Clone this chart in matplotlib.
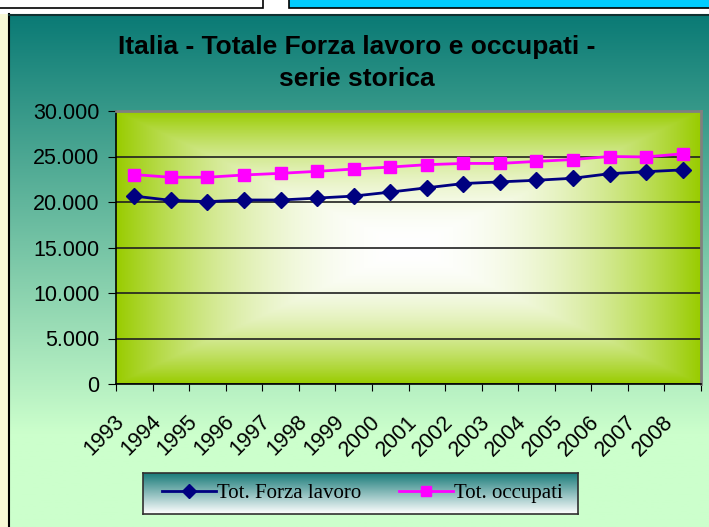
import numpy as np
import matplotlib
matplotlib.use("Agg")
import matplotlib.pyplot as plt
import matplotlib.transforms as mtransforms
from matplotlib.lines import Line2D
from matplotlib.patches import Rectangle

# dati (migliaia)
anni = ['1993', '1994', '1995', '1996', '1997', '1998', '1999', '2000',
        '2001', '2002', '2003', '2004', '2005', '2006', '2007', '2008']
forza_lavoro = [20650, 20180, 20040, 20220, 20220, 20430, 20650, 21090,
                21560, 22030, 22210, 22390, 22610, 23110, 23330, 23530]
occupati = [23010, 22720, 22720, 22970, 23150, 23370, 23620, 23840,
            24100, 24240, 24240, 24460, 24670, 25000, 24950, 25300]
yticks = [0, 5000, 10000, 15000, 20000, 25000, 30000]
ylabels = ['0', '5.000', '10.000', '15.000', '20.000', '25.000', '30.000']
titolo = 'Italia - Totale Forza lavoro e occupati -\nserie storica'
nomi = ['Tot. Forza lavoro', 'Tot. occupati']

W, H = 709, 527
fig = plt.figure(figsize=(W / 100, H / 100), dpi=100)
fig.patch.set_facecolor('white')

# sfondo (coordinate in pixel)
bg = fig.add_axes([0, 0, 1, 1])
bg.set_xlim(0, W)
bg.set_ylim(H, 0)
bg.axis('off')

# striscia gialla a sinistra
bg.add_patch(Rectangle((0, 14), 9, H - 14, facecolor='#f8f9d6', edgecolor='none'))
# riquadri in alto
bg.add_patch(Rectangle((-2, -2), 265, 9.5, facecolor='white', edgecolor='black', lw=1.2))
bg.add_patch(Rectangle((289, -2), 430, 9.5, facecolor='#00ccff', edgecolor='black', lw=1.2))

# gradiente verticale del grafico
top = np.array([10, 122, 117]) / 255
bot = np.array([204, 255, 204]) / 255
yy = np.linspace(0, 1, 300)
f = np.clip((yy * (H - 14)) / 420, 0, 1)[:, None]
grad = (top * (1 - f) + bot * f)[:, None, :]
bg.imshow(grad, extent=(9, W, H, 14), aspect='auto', zorder=1)
bg.plot([9, 9], [14, H], color='black', lw=1.5, zorder=2)
bg.plot([9, W], [14.5, 14.5], color='#103030', lw=1.5, zorder=2)

# area del grafico
x0, x1, y0, y1 = 116, 701, 111, 384
ax = fig.add_axes([x0 / W, 1 - y1 / H, (x1 - x0) / W, (y1 - y0) / H])
ax.set_facecolor('none')

# gradiente rettangolare dal centro
nx, ny = 300, 200
u = np.abs(np.linspace(-1, 1, nx))[None, :]
v = np.abs(np.linspace(-1, 1, ny))[:, None]
t = np.maximum(u, v) ** 2.1
verde = np.array([153, 204, 0]) / 255
area = np.ones((ny, nx, 3)) * (1 - t[..., None]) + verde * t[..., None]
ax.imshow(area, extent=(0, 1, 0, 1), transform=ax.transAxes, aspect='auto', zorder=0)

x = np.arange(len(anni))
ax.plot(x, forza_lavoro, color='#000080', lw=2, marker='D', ms=8,
        mfc='#000080', mec='#000080', zorder=3, label=nomi[0])
ax.plot(x, occupati, color='#ff00ff', lw=2, marker='s', ms=8.5,
        mfc='#ff00ff', mec='#ff00ff', zorder=3, label=nomi[1])

ax.set_xlim(-0.5, len(anni) - 0.5)
ax.set_ylim(0, 30000)
ax.set_yticks(yticks)
ax.set_yticklabels(ylabels, fontfamily='Liberation Sans', fontsize=15.5)
ax.yaxis.grid(True, color='#202020', lw=1.2)
ax.set_xticks(np.arange(len(anni) + 1) - 0.5)
ax.set_xticklabels([])
ax.set_xticks(x, minor=True)
ax.set_xticklabels(anni, minor=True, rotation=45, ha='right', va='center',
                   rotation_mode='anchor', fontfamily='Liberation Sans', fontsize=15.5)
ax.tick_params(axis='x', which='major', length=5, direction='out', color='black')
ax.tick_params(axis='x', which='minor', length=0, pad=25)
ax.tick_params(axis='y', length=6, direction='out', color='black', pad=6)
sposta = mtransforms.ScaledTranslation(-0.13, 0, fig.dpi_scale_trans)
for lab in ax.get_xticklabels(minor=True):
    lab.set_transform(lab.get_transform() + sposta)

for s in ['left', 'bottom']:
    ax.spines[s].set_color('black')
    ax.spines[s].set_linewidth(1.2)
for s in ['top', 'right']:
    ax.spines[s].set_color('#808080')
    ax.spines[s].set_linewidth(2)

fig.text(357 / W, 1 - 63 / H, titolo, ha='center', va='center',
         fontfamily='Liberation Sans', fontweight='bold', fontsize=19,
         linespacing=1.45)

# legenda con sfondo sfumato
lx0, lx1, ly0, ly1 = 143, 578, 473, 514
lax = fig.add_axes([lx0 / W, 1 - ly1 / H, (lx1 - lx0) / W, (ly1 - ly0) / H])
lt = np.linspace(0, 1, 100)[:, None]
tl = np.array([20, 120, 118]) / 255
lg = (tl * (1 - lt) + np.ones(3) * lt)[:, None, :]
lax.imshow(lg, extent=(0, 1, 0, 1), aspect='auto')
lax.set_xticks([])
lax.set_yticks([])
for s in lax.spines.values():
    s.set_color('#303030')
    s.set_linewidth(1.2)
handles = [Line2D([], [], color='#000080', lw=2, marker='D', ms=7),
           Line2D([], [], color='#ff00ff', lw=2, marker='s', ms=7.5)]
lax.legend(handles, nomi, loc='center left', bbox_to_anchor=(19 / 435, 0.5),
           ncol=2, frameon=False, borderpad=0, borderaxespad=0,
           prop={'family': 'Liberation Serif', 'size': 15},
           handlelength=2.6, handletextpad=0.05, columnspacing=1.8)

fig.savefig('out.png', dpi=100)
